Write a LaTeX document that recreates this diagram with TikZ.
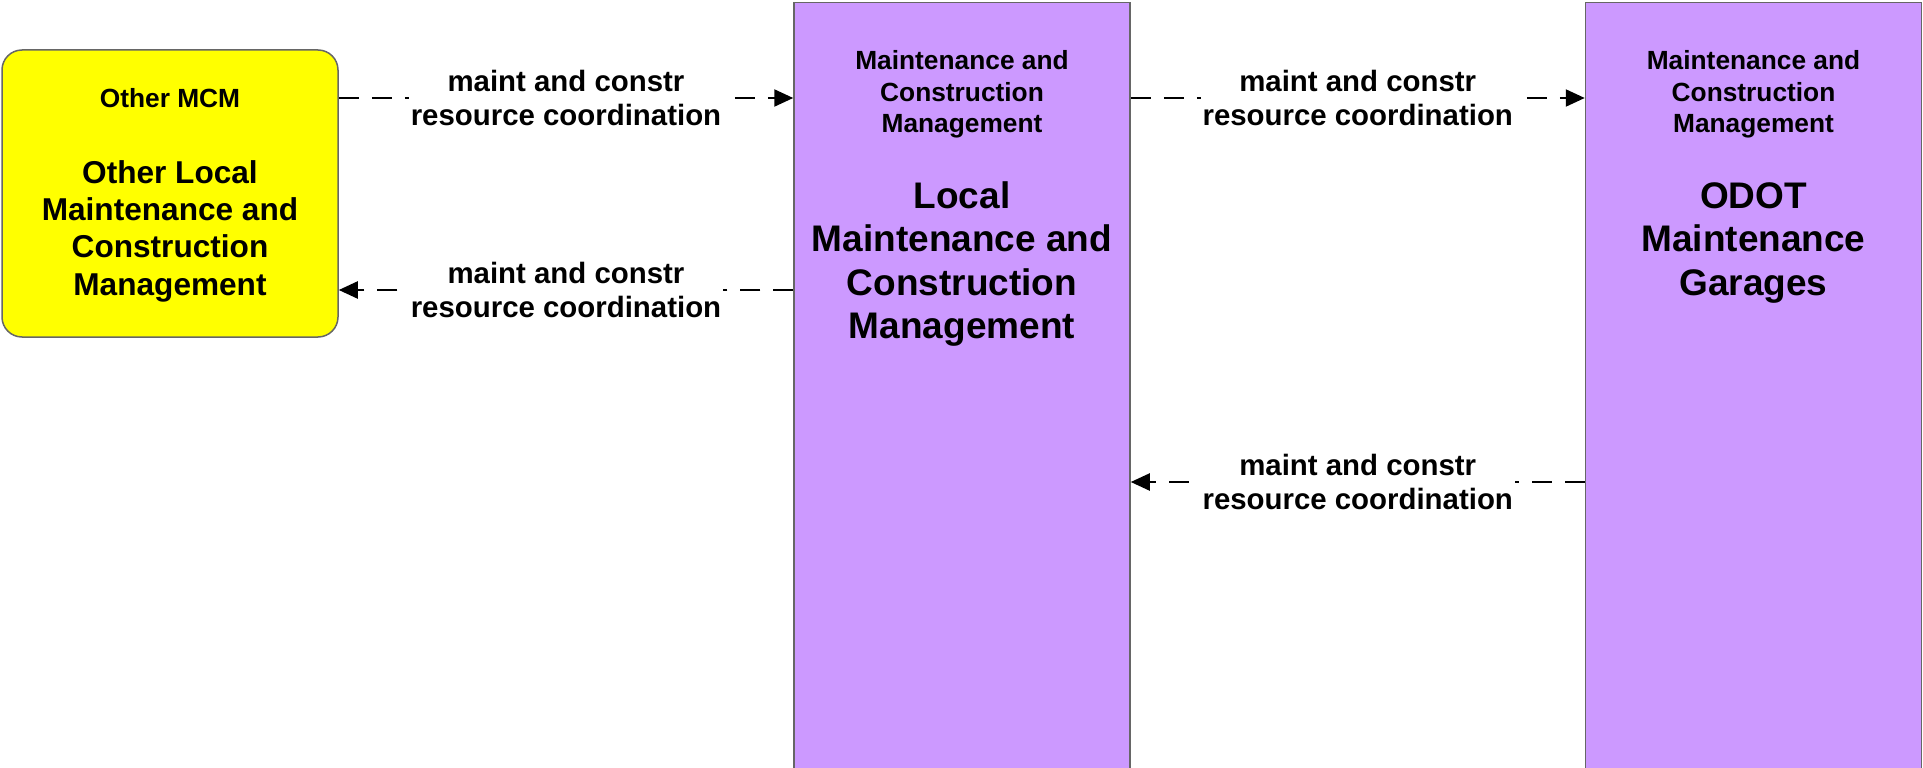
\documentclass[tikz,border=0pt]{standalone}
\usepackage{fontspec}
\setmainfont{Liberation Sans}
\usetikzlibrary{arrows.meta}
\definecolor{boxpurple}{RGB}{204,153,255}
\definecolor{boxyellow}{RGB}{255,255,0}
\definecolor{edgegray}{RGB}{102,102,102}
\begin{document}
\begin{tikzpicture}[x=1pt,y=-1pt,
  purplebox/.style={draw=edgegray,line width=1.5pt,fill=boxpurple,minimum width=336pt,minimum height=820pt,anchor=north,inner sep=0pt},
  yellowbox/.style={draw=edgegray,line width=1.5pt,fill=boxyellow,rounded corners=20pt,minimum width=336pt,minimum height=287pt,inner sep=0pt},
  smalltitle/.style={font=\fontsize{26.3}{31.3}\selectfont\bfseries,align=center,inner sep=0pt},
  bigtitle/.style={font=\fontsize{37}{43.3}\selectfont\bfseries,align=center,inner sep=0pt},
  midtitle/.style={font=\fontsize{31.6}{37.3}\selectfont\bfseries,align=center,inner sep=0pt},
  flow/.style={line width=2.2pt,dash pattern=on 20pt off 13pt,-{Triangle[length=19pt,width=17pt]}},
  flowlabel/.style={font=\fontsize{29.4}{33.5}\selectfont\bfseries,align=center,fill=white,inner xsep=2pt,inner ysep=0pt}
]
\path[use as bounding box] (0,0) rectangle (1923,768);
\clip (0,0) rectangle (1923,768);

\node[yellowbox] (other) at (170,193.5) {};
\node[smalltitle] (othert) at (170,98) {Other MCM};
\node[midtitle] (otherb) at (170,231) {Other Local\\Maintenance and\\Construction\\Management};

\node[purplebox] (local) at (962,2) {};
\node[smalltitle] (localt) at (962,94.5) {Maintenance and\\Construction\\Management};
\node[bigtitle] (localb) at (962,264) {Local\\Maintenance and\\Construction\\Management};

\node[purplebox] (odot) at (1753.5,2) {};
\node[smalltitle] (odott) at (1753.5,94.5) {Maintenance and\\Construction\\Management};
\node[bigtitle] (odotb) at (1753.5,243) {ODOT\\Maintenance\\Garages};

\draw[flow] (other.east |- 0,98) -- node[flowlabel] (l1) {maint and constr\\resource coordination} (local.west |- 0,98);
\draw[flow] (local.west |- 0,290) -- node[flowlabel] (l2) {maint and constr\\resource coordination} (other.east |- 0,290);
\draw[flow] (local.east |- 0,98) -- node[flowlabel] (l3) {maint and constr\\resource coordination} (odot.west |- 0,98);
\draw[flow] (odot.west |- 0,482) -- node[flowlabel] (l4) {maint and constr\\resource coordination} (local.east |- 0,482);
\end{tikzpicture}
\end{document}
